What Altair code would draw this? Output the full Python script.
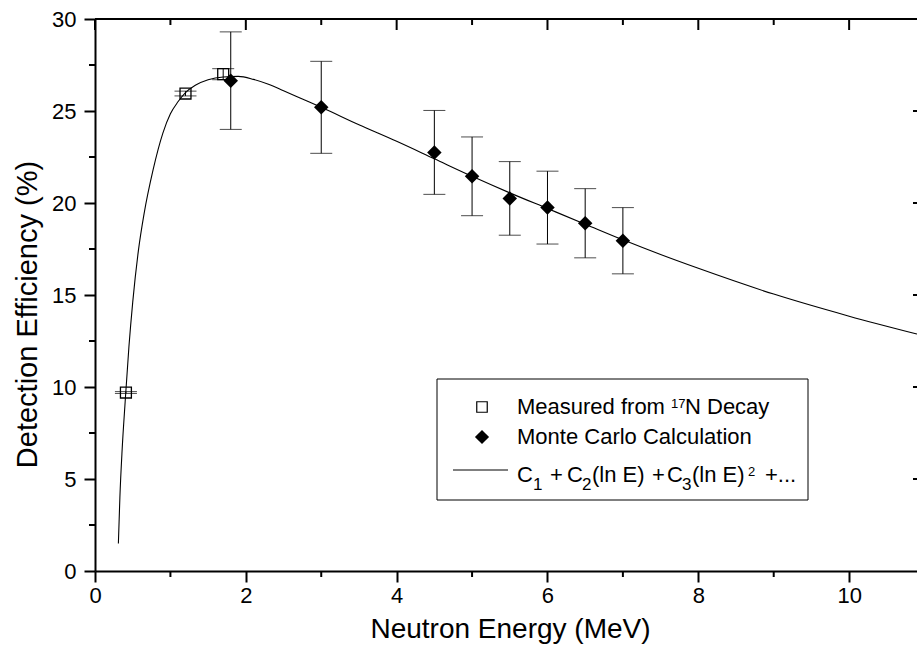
import altair as alt
import pandas as pd

# ---------------- data ----------------
meas_E = [0.41, 1.2, 1.7]
meas_eff = [9.7, 25.95, 27.0]
meas_err = [0.05, 0.13, 0.3]

mc_E = [1.8, 3.0, 4.5, 5.0, 5.5, 6.0, 6.5, 7.0]
mc_eff = [26.65, 25.2, 22.75, 21.45, 20.25, 19.75, 18.9, 17.95]
mc_err = [2.65, 2.5, 2.28, 2.14, 2.0, 1.98, 1.88, 1.8]

fit_E = [0.31, 0.33, 0.36, 0.40, 0.45, 0.50, 0.575, 0.65, 0.77, 0.90, 1.0, 1.1,
         1.2, 1.33, 1.5, 1.7, 1.9, 2.1, 2.3, 2.5, 2.75, 3.0, 3.5, 4.0, 4.5,
         5.0, 5.5, 6.0, 6.5, 7.0, 7.5, 8.0, 9.0, 10.0, 10.9]
fit_eff = [1.5, 4.0, 6.6, 9.2, 12.2, 14.6, 17.4, 19.4, 21.8, 23.8, 24.85, 25.5,
           26.0, 26.4, 26.7, 26.85, 26.88, 26.72, 26.45, 26.1, 25.65, 25.2, 24.25, 23.35, 22.4,
           21.45, 20.55, 19.7, 18.85, 18.0, 17.2, 16.45, 15.05, 13.85, 12.88]

x_major = [0, 2, 4, 6, 8, 10]
x_minor = [1, 3, 5, 7, 9]
y_major = [0, 5, 10, 15, 20, 25, 30]
y_minor = [2.5, 7.5, 12.5, 17.5, 22.5, 27.5]

x_title = "Neutron Energy (MeV)"
y_title = "Detection Efficiency (%)"

# ---------------- layout ----------------
FONT = "Liberation Sans"
W, H = 822, 552
OX, OY = 95, 19

xscale = alt.Scale(domain=[0, 10.9], nice=False, zero=False)
yscale = alt.Scale(domain=[0, 30], nice=False)

xaxis = alt.Axis(values=x_major, format="d", title=x_title, grid=False,
                 tickSize=11, tickWidth=2, tickColor="black",
                 domainWidth=2, domainColor="black",
                 labelFont=FONT, labelFontSize=22, labelColor="black",
                 labelPadding=3, labelFlush=False,
                 titleFont=FONT, titleFontSize=28, titleFontWeight="normal",
                 titleColor="black", titlePadding=9, titleX=510 - OX)
yaxis = alt.Axis(values=y_major, format="d", title=y_title, grid=False,
                 tickSize=11, tickWidth=2, tickColor="black",
                 domainWidth=2, domainColor="black",
                 labelFont=FONT, labelFontSize=22, labelColor="black",
                 labelPadding=8, labelFlush=False,
                 titleFont=FONT, titleFontSize=29, titleFontWeight="normal",
                 titleColor="black", titlePadding=9, titleY=314 - OY)


def X(field):
    return alt.X(field, type="quantitative", scale=xscale, axis=xaxis)


def Y(field):
    return alt.Y(field, type="quantitative", scale=yscale, axis=yaxis)


fit_df = pd.DataFrame({"E": fit_E, "eff": fit_eff})
meas_df = pd.DataFrame({"E": meas_E, "eff": meas_eff, "err": meas_err})
meas_df["lo"] = meas_df["eff"] - meas_df["err"]
meas_df["hi"] = meas_df["eff"] + meas_df["err"]
mc_df = pd.DataFrame({"E": mc_E, "eff": mc_eff, "err": mc_err})
mc_df["lo"] = mc_df["eff"] - mc_df["err"]
mc_df["hi"] = mc_df["eff"] + mc_df["err"]

curve = alt.Chart(fit_df).mark_line(color="black", strokeWidth=1.1,
                                    interpolate="monotone").encode(x=X("E"), y=Y("eff"))

tick_style = {"size": 22, "color": "black", "thickness": 1}
mc_err_bars = alt.Chart(mc_df).mark_errorbar(color="black", ticks=tick_style,
                                             rule={"strokeWidth": 1}).encode(
    x=X("E"), y=Y("lo"), y2="hi")
meas_err_bars = alt.Chart(meas_df).mark_errorbar(color="black", ticks=tick_style,
                                                 rule={"strokeWidth": 1}).encode(
    x=X("E"), y=Y("lo"), y2="hi")

mc_pts = alt.Chart(mc_df).mark_point(shape="diamond", filled=True, color="black",
                                     size=210, opacity=1).encode(x=X("E"), y=Y("eff"))
meas_pts = alt.Chart(meas_df).mark_point(shape="square", filled=False, color="black",
                                         size=120, strokeWidth=1.3, opacity=1).encode(
    x=X("E"), y=Y("eff"))

# minor ticks (outward) on bottom and left, mirrored ticks (inward) on top and right
xmin_df = pd.DataFrame({"v": x_minor})
xmaj_df = pd.DataFrame({"v": x_major})
ymin_df = pd.DataFrame({"v": y_minor})
ymaj_df = pd.DataFrame({"v": [v for v in y_major if 0 < v < 30]})

bot_minor = alt.Chart(xmin_df).mark_rule(color="black", strokeWidth=2).encode(
    x=X("v"), y=alt.value(H), y2=alt.value(H + 6))
left_minor = alt.Chart(ymin_df).mark_rule(color="black", strokeWidth=2).encode(
    y=Y("v"), x=alt.value(0), x2=alt.value(-6))
top_major = alt.Chart(xmaj_df).mark_rule(color="black", strokeWidth=2).encode(
    x=X("v"), y=alt.value(0), y2=alt.value(11))
top_minor = alt.Chart(xmin_df).mark_rule(color="black", strokeWidth=2).encode(
    x=X("v"), y=alt.value(0), y2=alt.value(6))
right_major = alt.Chart(ymaj_df).mark_rule(color="black", strokeWidth=2).encode(
    y=Y("v"), x=alt.value(W - 4), x2=alt.value(W))

one = pd.DataFrame({"t": [""]})
top_line = alt.Chart(one).mark_rule(color="black", strokeWidth=2).encode(
    x=alt.value(0), x2=alt.value(W), y=alt.value(0))

# ---------------- legend (drawn as annotation) ----------------
legend_box = alt.Chart(one).mark_rect(fill="white", stroke="black", strokeWidth=1).encode(
    x=alt.value(437 - OX), x2=alt.value(808 - OX),
    y=alt.value(379 - OY), y2=alt.value(500 - OY))
leg_sq = alt.Chart(one).mark_point(shape="square", filled=False, color="black",
                                   size=110, strokeWidth=1.2, opacity=1).encode(
    x=alt.value(482 - OX), y=alt.value(407 - OY))
leg_dm = alt.Chart(one).mark_point(shape="diamond", filled=True, color="black",
                                   size=200, opacity=1).encode(
    x=alt.value(482 - OX), y=alt.value(437 - OY))
leg_line = alt.Chart(one).mark_rule(color="black", strokeWidth=1).encode(
    x=alt.value(453 - OX), x2=alt.value(508 - OX), y=alt.value(470 - OY))


def txt(s, x, y, size=22):
    return alt.Chart(pd.DataFrame({"t": [s]})).mark_text(
        align="left", baseline="alphabetic", font=FONT, fontSize=size, color="black"
    ).encode(x=alt.value(x - OX), y=alt.value(y - OY), text="t")


legend_texts = [
    txt("Measured from ", 517, 414),
    txt("17", 671, 408, 13),
    txt("N Decay", 685, 414),
    txt("Monte Carlo Calculation", 517, 444),
    txt("C", 517, 482),
    txt("1", 533, 490, 17),
    txt("+", 550, 482),
    txt("C", 567, 482),
    txt("2", 582, 490, 17),
    txt("(ln E)", 592, 482),
    txt("+", 652, 482),
    txt("C", 667, 482),
    txt("3", 682, 490, 17),
    txt("(ln E)", 692, 482),
    txt("2", 748, 476, 13),
    txt("+...", 765, 482),
]

chart = alt.layer(
    curve, mc_err_bars, meas_err_bars, mc_pts, meas_pts,
    bot_minor, left_minor, top_major, top_minor, right_major, top_line,
    legend_box, leg_sq, leg_dm, leg_line, *legend_texts
).properties(
    width=W, height=H,
    padding={"left": OX, "top": OY, "right": 0, "bottom": 659 - OY - H},
    autosize=alt.AutoSizeParams(type="none"),
    background="white",
).configure_view(stroke=None)

chart.save("out.html", embed_options={"renderer": "svg", "actions": False})
